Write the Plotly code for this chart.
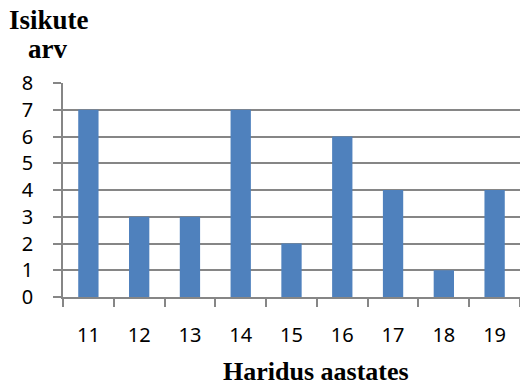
import plotly.graph_objects as go

categories = ["11", "12", "13", "14", "15", "16", "17", "18", "19"]
values = [7, 3, 3, 7, 2, 6, 4, 1, 4]
y_ticks = [0, 1, 2, 3, 4, 5, 6, 7, 8]

fig = go.Figure(go.Bar(x=categories, y=values, marker=dict(color="#4F81BD", line=dict(width=0))))

tick_font = dict(family="Noto Sans, Open Sans, sans-serif", size=20, color="#000000")
title_font = dict(family="Liberation Serif, Times New Roman, serif", size=27, color="#000000")
xtitle_font = dict(family="Liberation Serif, Times New Roman, serif", size=26, color="#000000")

W, H = 520, 387
L, R, T, B = 63, 0, 83, 90
pw, ph = W - L - R, H - T - B

def px(x):
    return (x - L) / pw

def py(y):
    return (H - y - B) / ph

fig.update_layout(
    width=W, height=H,
    margin=dict(l=L, r=R, t=T, b=B, autoexpand=False),
    paper_bgcolor="white", plot_bgcolor="white",
    bargap=0.6, showlegend=False,
    xaxis=dict(type="category", tickson="boundaries", ticks="outside", ticklen=8, tickwidth=1.5,
               tickcolor="#868686", showline=True, linecolor="#868686", linewidth=1.5,
               showgrid=False, tickfont=tick_font, ticklabelstandoff=19),
    yaxis=dict(range=[0, 8], tickvals=y_ticks, ticks="outside", ticklen=8, tickwidth=1.5,
               tickcolor="#868686", showline=True, linecolor="#868686", linewidth=1.5,
               showgrid=True, gridcolor="#868686", gridwidth=1.5, zeroline=False,
               tickfont=tick_font, ticklabelstandoff=16),
    annotations=[
        dict(text="<b>Isikute</b>", x=px(49), y=py(20), xref="paper", yref="paper",
             xanchor="center", yanchor="middle", showarrow=False, font=title_font),
        dict(text="<b>arv</b>", x=px(47), y=py(49), xref="paper", yref="paper",
             xanchor="center", yanchor="middle", showarrow=False, font=title_font),
        dict(text="<b>Haridus aastates</b>", x=px(316), y=py(371), xref="paper", yref="paper",
             xanchor="center", yanchor="middle", showarrow=False, font=xtitle_font),
    ],
)

fig.write_html("out.html", config={"displayModeBar": False},
               post_script="document.body.style.margin='0';document.body.style.overflow='hidden';")
